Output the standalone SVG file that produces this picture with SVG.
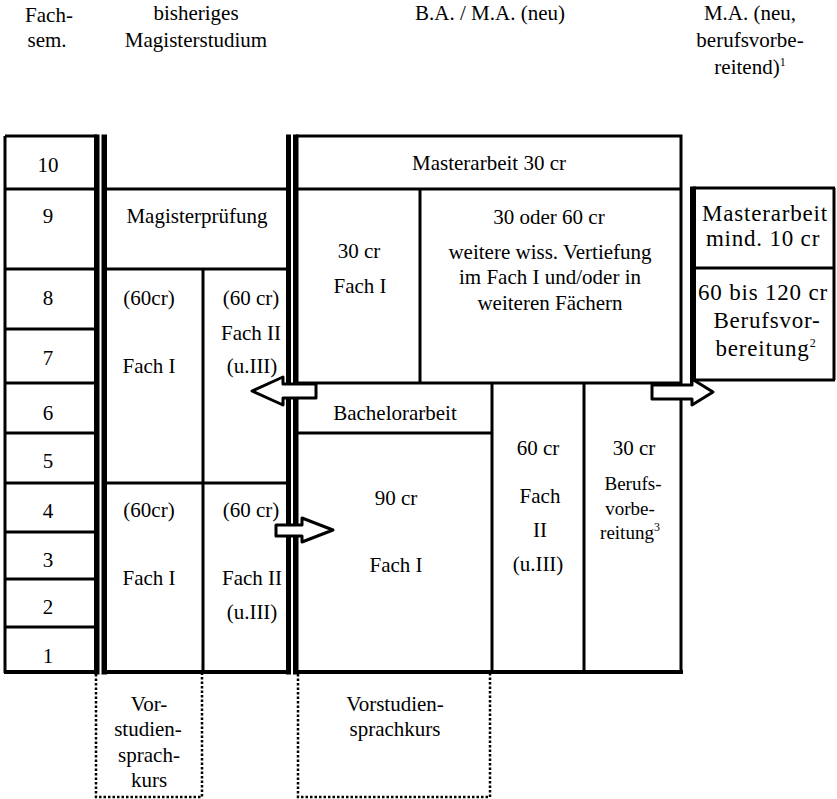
<svg xmlns="http://www.w3.org/2000/svg" width="837" height="799" viewBox="0 0 837 799">
<style>
text{font-family:"Liberation Serif","Times New Roman",serif;font-size:21px;text-anchor:middle;fill:#000}
.sm{font-size:19px}
.ma{font-size:23px;letter-spacing:0.8px}
.sup{font-size:12px}
.thin{fill:none;stroke:#000;stroke-width:3}
.bot{fill:none;stroke:#000;stroke-width:4}
.thick{fill:#000}
.dot{fill:none;stroke:#000;stroke-width:2.5;stroke-dasharray:2.5 2}
.arrow{fill:#fff;stroke:#000;stroke-width:3;stroke-linejoin:round}
</style>
<rect width="837" height="799" fill="#fff"/>
<g id="header">
<text x="49" y="22">Fach-</text>
<text x="47" y="47">sem.</text>
<text x="196" y="20">bisheriges</text>
<text x="196" y="47">Magisterstudium</text>
<text x="490" y="20">B.A. / M.A. (neu)</text>
<text x="750" y="20">M.A. (neu,</text>
<text x="750" y="47">berufsvorbe-</text>
<text x="750" y="74">reitend)<tspan class="sup" dy="-8">1</tspan></text>
</g>
<g id="semesters">
<path class="thin" d="M5,136H97M5,136V673M5,189H97M5,269H97M5,329H97M5,383H97M5,433H97M5,483H97M5,532H97M5,579H97M5,627H97"/>
<path class="bot" d="M4,672H98"/>
<rect class="thick" x="94" y="134.5" width="5.5" height="540"/>
<text x="48" y="172">10</text>
<text x="48" y="223">9</text>
<text x="48" y="305">8</text>
<text x="48" y="365">7</text>
<text x="48" y="420">6</text>
<text x="48" y="468">5</text>
<text x="48" y="518">4</text>
<text x="48" y="567">3</text>
<text x="48" y="614">2</text>
<text x="48" y="663">1</text>
</g>
<g id="magister">
<rect class="thick" x="101.5" y="134.5" width="5.5" height="540"/>
<rect class="thick" x="286" y="134.5" width="5" height="540"/>
<path class="thin" d="M106,189H287M106,269H287M106,483H287M203,269V672"/>
<path class="bot" d="M102,672H291"/>
</g>
<g id="mag-pruefung"><text x="197" y="223">Magisterprüfung</text></g>
<g id="mag-fach1-haupt"><text x="149" y="305">(60cr)</text><text x="149" y="373">Fach I</text></g>
<g id="mag-fach2-haupt"><text x="251" y="305">(60 cr)</text><text x="251" y="340">Fach II</text><text x="252" y="373">(u.III)</text></g>
<g id="mag-fach1-grund"><text x="149" y="517">(60cr)</text><text x="149" y="585">Fach I</text></g>
<g id="mag-fach2-grund"><text x="251" y="517">(60 cr)</text><text x="252" y="585">Fach II</text><text x="252" y="619">(u.III)</text></g>
<g id="mag-vorkurs">
<path class="dot" d="M96,674V797H202V674"/>
<text x="149" y="711">Vor-</text><text x="148" y="736">studien-</text><text x="149" y="762">sprach-</text><text x="149" y="787">kurs</text>
</g>
<g id="ba-ma">
<rect class="thick" x="293" y="134.5" width="5.5" height="540"/>
<path class="thin" d="M296,136H682.5M296,189H682M420,189V383M296,433H492M492,383V672M584,383V672M681,136V673"/>
<path class="thin" d="M296,383H682" stroke-width="3.5"/>
<path class="bot" d="M296,672H683"/>
</g>
<g id="masterarbeit"><text x="489" y="170">Masterarbeit 30 cr</text></g>
<g id="ma-fach1"><text x="359" y="258">30 cr</text><text x="360" y="293">Fach I</text></g>
<g id="ma-vertiefung">
<text x="549" y="224">30 oder 60 cr</text>
<text x="550" y="259">weitere wiss. Vertiefung</text>
<text x="550" y="284">im Fach I und/oder in</text>
<text x="550" y="310">weiteren Fächern</text>
</g>
<g id="bachelorarbeit"><text x="395" y="420">Bachelorarbeit</text></g>
<g id="ba-fach1"><text x="396" y="505">90 cr</text><text x="396" y="572">Fach I</text></g>
<g id="ba-fach2"><text x="538" y="455">60 cr</text><text x="540" y="503">Fach</text><text x="540" y="537">II</text><text x="538" y="571">(u.III)</text></g>
<g id="ba-beruf"><text x="634" y="455">30 cr</text><text class="sm" x="633" y="490">Berufs-</text><text class="sm" x="630" y="515">vorbe-</text><text class="sm" x="630" y="539">reitung<tspan class="sup" dy="-8">3</tspan></text></g>
<g id="ba-vorkurs">
<path class="dot" d="M298,674V797H490V674"/>
<text x="395" y="711">Vorstudien-</text><text x="395" y="736">sprachkurs</text>
</g>
<g id="ma-beruf">
<rect class="thick" x="690" y="186.5" width="6" height="197"/>
<path class="thin" d="M693,188H835M834,188V380M693,268H834M693,380H835"/>
<text class="ma" x="765" y="221">Masterarbeit</text>
<text class="ma" x="763" y="246">mind. 10 cr</text>
<text class="ma" x="763" y="300">60 bis 120 cr</text>
<text class="ma" x="767" y="328">Berufsvor-</text>
<text class="ma" x="766" y="356">bereitung<tspan class="sup" dy="-9">2</tspan></text>
</g>
<g id="connectors">
<polygon class="arrow" points="316,384 283,384 283,377 252,391 283,405 283,398 316,398"/>
<polygon class="arrow" points="652,385 692,385 692,379 713,392 692,405 692,399 652,399"/>
<polygon class="arrow" points="276,525 302,525 302,518 333,530 302,542 302,536 276,536"/>
</g>
</svg>
